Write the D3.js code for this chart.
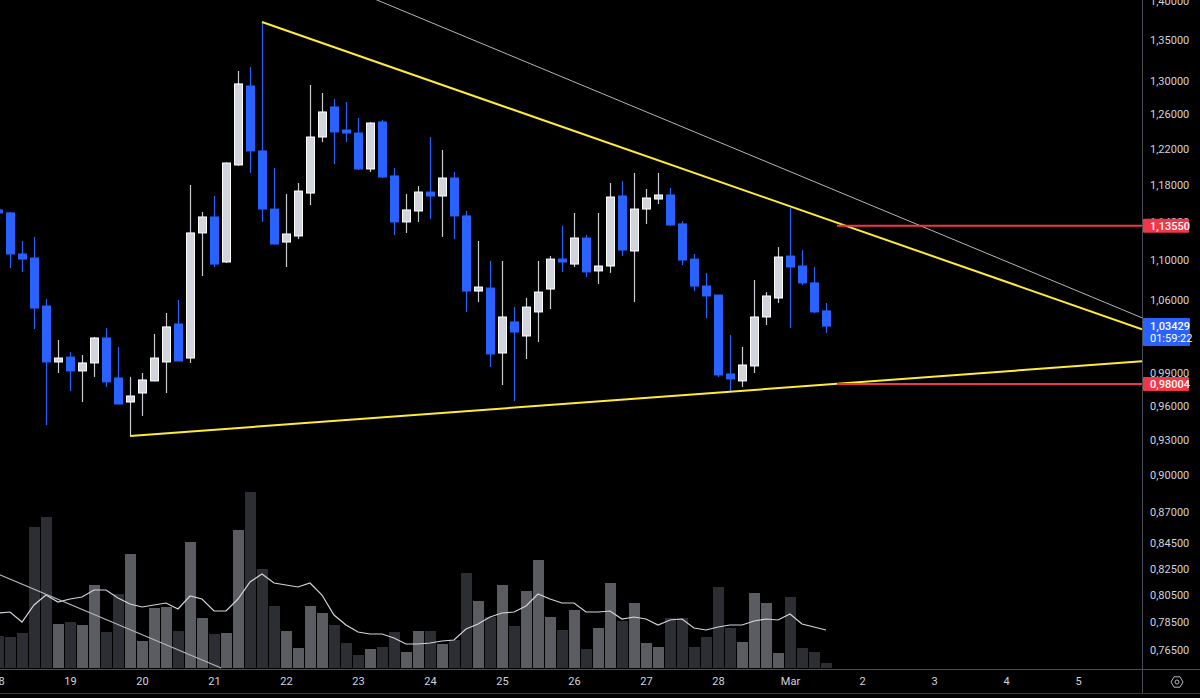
<!DOCTYPE html>
<html>
<head>
<meta charset="utf-8">
<script src="https://cdn.jsdelivr.net/npm/d3@7"></script>
<style>
html, body { margin: 0; background: #000; overflow: hidden; }
svg { display: block; }
text { font-family: Roboto, "Noto Sans", sans-serif; }
</style>
</head>
<body>
<svg id="chart" width="1200" height="698"></svg>
<script>
// 4h candles, first one opens Feb 18 2021 00:00 UTC
const startTime = Date.UTC(2021, 1, 18, 0);
const opens  = [1.1524,1.1492,1.1061,1.1020,1.0538,1.0003,1.0049,0.9920,0.9994,1.0229,0.9855,0.9637,0.9718,0.9828,1.0003,1.0363,1.0040,1.1280,1.1449,1.0979,1.2017,1.2934,1.2175,1.1534,1.1185,1.1248,1.1707,1.2334,1.2684,1.2415,1.2380,1.1972,1.2508,1.1895,1.1396,1.1513,1.1718,1.1675,1.1872,1.1460,1.0686,1.0716,1.0087,1.0383,1.0248,1.0480,1.0706,1.1009,1.0958,1.1227,1.0888,1.0938,1.1675,1.1092,1.1534,1.1642,1.1686,1.1375,1.1009,1.0736,1.0646,0.9892,0.9828,0.9966,1.0431,1.0617,1.1040,1.0938,1.0767,1.0490];
const highs  = [1.1540,1.1503,1.1196,1.1238,1.0607,1.0210,1.0096,1.0068,1.0239,1.0325,1.0144,0.9865,0.9901,1.0267,1.0470,1.0597,1.1795,1.1503,1.1675,1.2045,1.3116,1.3165,1.3728,1.1983,1.1696,1.1817,1.2947,1.2850,1.2779,1.2743,1.2554,1.2505,1.2531,1.1983,1.1696,1.1784,1.2334,1.2186,1.1939,1.1513,1.1196,1.0989,1.0989,1.0528,1.0617,1.0989,1.1040,1.1354,1.1492,1.1259,1.1492,1.1817,1.1839,1.1928,1.1751,1.1928,1.1762,1.1406,1.1061,1.0868,1.0646,1.0257,1.0144,1.0797,1.0676,1.1133,1.1545,1.1102,1.0928,1.0568];
const lows   = [1.1460,1.0917,1.0878,1.0315,0.9433,0.9901,0.9736,0.9637,0.9865,0.9773,0.9619,0.9337,0.9513,0.9826,0.9718,1.0012,0.9994,1.0837,1.0928,1.0970,1.2010,1.1928,1.1396,1.1164,1.0928,1.1217,1.1577,1.2277,1.2028,1.2277,1.1961,1.1939,1.1872,1.1259,1.1280,1.1396,1.1428,1.1238,1.1217,1.0480,1.0577,0.9957,0.9791,0.9646,1.0031,1.0191,1.0509,1.0878,1.0928,1.0827,1.0756,1.0868,1.1040,1.0577,1.1375,1.1588,1.1354,1.0948,1.0686,1.0421,0.9865,0.9736,0.9773,0.9901,1.0354,1.0568,1.0325,1.0746,1.0470,1.0276];
const closes = [1.1492,1.1061,1.1009,1.0518,1.0003,1.0040,0.9920,0.9994,1.0229,0.9819,0.9619,0.9691,0.9837,1.0040,1.0335,1.0012,1.1280,1.1449,1.0958,1.2039,1.2959,1.2175,1.1534,1.1164,1.1269,1.1729,1.2334,1.2625,1.2392,1.2380,1.1972,1.2496,1.1883,1.1396,1.1524,1.1718,1.1675,1.1872,1.1460,1.0686,1.0726,1.0078,1.0431,1.0286,1.0528,1.0676,1.1009,1.0979,1.1227,1.0878,1.0938,1.1664,1.1102,1.1534,1.1653,1.1686,1.1364,1.0999,1.0736,1.0637,0.9883,0.9846,0.9975,1.0431,1.0637,1.1030,1.0928,1.0767,1.0480,1.03429];
// volume in millions and its moving average
const volumes = [3.2,3.1,3.5,14.1,15.1,4.4,4.6,4.3,8.3,3.6,7.4,11.4,2.7,6.0,6.1,3.7,12.6,5.0,3.4,3.5,13.8,17.6,9.9,6.2,3.7,2.0,6.2,5.5,4.3,2.5,1.3,1.9,2.1,3.6,1.6,3.7,3.7,2.4,2.8,9.5,6.7,5.1,8.3,4.2,7.7,10.8,5.1,3.8,5.8,1.9,4.0,8.5,4.7,6.5,2.5,2.1,5.0,5.0,2.1,3.1,8.1,4.0,2.6,7.5,6.5,1.5,7.1,2.0,1.6,0.5];
const volumeMA = [5.5,5.6,4.6,6.3,7.3,6.6,6.9,7.1,7.8,7.8,7.0,6.4,6.1,6.3,6.5,5.9,7.2,6.9,5.7,5.7,6.9,8.6,9.4,8.5,8.3,8.1,8.5,7.3,5.3,4.3,3.6,3.4,3.4,3.0,2.4,2.4,2.5,2.7,2.8,3.9,4.4,5.1,5.5,5.6,6.2,7.4,6.9,6.5,6.5,5.6,5.6,5.7,4.9,5.1,4.9,4.3,4.8,4.9,4.0,3.8,4.1,4.3,4.3,4.7,4.9,4.8,5.4,4.4,4.1,3.8];

const priceTicks = [1.40, 1.35, 1.30, 1.26, 1.22, 1.18, 1.14, 1.10, 1.06, 0.99, 0.96, 0.93, 0.90, 0.87, 0.845, 0.825, 0.805, 0.785, 0.765];
const levels = [1.1355, 0.98004];
const lastPrice = 1.03429;
const countdown = "01:59:22";

// drawings: [candle number, price]
const upperTrend = [[22, 1.3728], [66, 1.1563]];
const lowerTrend = [[11, 0.9337], [61, 0.9730]];
const greyTrend = [[32, 1.3985], [68, 1.1833]];
const volumeTrend = [[0, 9.4], [18.6, 0]];
const levelStart = 70;

const W = 1200, H = 698;
const plotRight = 1142, plotBottom = 669;
const hour = 3600 * 1000;
const at = k => new Date(startTime + k * 4 * hour);

const candles = opens.map((o, k) => ({
    t: at(k), o, h: highs[k], l: lows[k], c: closes[k], v: volumes[k], ma: volumeMA[k], up: closes[k] >= o
}));

const svg = d3.select("#chart");
svg.append("rect").attr("width", W).attr("height", H).attr("fill", "#000");

const x = d3.scaleUtc()
    .domain([new Date(Date.UTC(2021, 1, 19)), new Date(Date.UTC(2021, 1, 20))])
    .range([70, 142]);
const y = d3.scaleLog().domain([0.765, 1.35]).range([650, 40]);
const yVol = d3.scaleLinear().domain([0, 20]).range([668, 468]);

svg.append("clipPath").attr("id", "plot")
    .append("rect").attr("x", 0).attr("y", 0).attr("width", plotRight).attr("height", plotBottom);

const plot = svg.append("g").attr("clip-path", "url(#plot)");

// volume bars
plot.append("g").selectAll("rect")
    .data(candles)
    .enter()
    .append("rect")
    .attr("x", d => x(d.t) - 5)
    .attr("y", d => yVol(d.v))
    .attr("width", 11)
    .attr("height", d => yVol(0) - yVol(d.v))
    .attr("fill", d => d.up ? "#5b5c61" : "#2d2e33");

// volume moving average
plot.append("path")
    .datum(candles)
    .attr("d", d3.line().x(d => x(d.t)).y(d => yVol(d.ma)))
    .attr("fill", "none")
    .attr("stroke", "#d1d4dc")
    .attr("stroke-width", 1.2);

// straight drawing extended in screen space
function extended(pts, sx, sy, x0, x1) {
    const ax = sx(at(pts[0][0])), ay = sy(pts[0][1]);
    const bx = sx(at(pts[1][0])), by = sy(pts[1][1]);
    const m = (by - ay) / (bx - ax);
    return [[x0, ay + m * (x0 - ax)], [x1, ay + m * (x1 - ax)]];
}
const seg = d3.line();

plot.append("path")
    .attr("d", seg(extended(volumeTrend, x, yVol, x(at(volumeTrend[0][0])) - 5, x(at(volumeTrend[1][0])))))
    .attr("stroke", "#b2b5be").attr("stroke-width", 1.2).attr("fill", "none");

plot.append("path")
    .attr("d", seg(extended(greyTrend, x, y, 300, plotRight)))
    .attr("stroke", "#b2b5be").attr("stroke-width", 1).attr("fill", "none");

// candles
const candleG = plot.append("g");
candleG.selectAll("line")
    .data(candles)
    .enter()
    .append("line")
    .attr("x1", d => Math.round(x(d.t)) + 0.5)
    .attr("x2", d => Math.round(x(d.t)) + 0.5)
    .attr("y1", d => y(d.h))
    .attr("y2", d => y(d.l))
    .attr("stroke", d => d.up ? "#c9cbd1" : "#2962ff")
    .attr("stroke-width", 1.2);

candleG.selectAll("rect")
    .data(candles)
    .enter()
    .append("rect")
    .attr("x", d => Math.round(x(d.t)) - 3.5)
    .attr("y", d => y(Math.max(d.o, d.c)))
    .attr("width", 8)
    .attr("height", d => Math.max(1.5, y(Math.min(d.o, d.c)) - y(Math.max(d.o, d.c))))
    .attr("fill", d => d.up ? "#d1d4dc" : "#2962ff")
    .attr("stroke", d => d.up ? "#ffffff" : "#2962ff")
    .attr("stroke-width", 1);

// yellow trend lines
plot.append("path")
    .attr("d", seg(extended(upperTrend, x, y, x(at(upperTrend[0][0])), plotRight)))
    .attr("stroke", "#ffeb3b").attr("stroke-width", 2).attr("fill", "none");
plot.append("path")
    .attr("d", seg(extended(lowerTrend, x, y, x(at(lowerTrend[0][0])), plotRight)))
    .attr("stroke", "#ffeb3b").attr("stroke-width", 2).attr("fill", "none");

// horizontal levels
plot.selectAll(".level")
    .data(levels)
    .enter()
    .append("line")
    .attr("class", "level")
    .attr("x1", x(at(levelStart)) - 1)
    .attr("x2", plotRight)
    .attr("y1", d => y(d))
    .attr("y2", d => y(d))
    .attr("stroke", "#f23645")
    .attr("stroke-width", 2);

// frame
svg.append("line").attr("x1", plotRight + 0.5).attr("x2", plotRight + 0.5).attr("y1", 0).attr("y2", 694)
    .attr("stroke", "#4a4d57");
svg.append("line").attr("x1", 0).attr("x2", W).attr("y1", plotBottom + 0.5).attr("y2", plotBottom + 0.5)
    .attr("stroke", "#4a4d57");
svg.append("line").attr("x1", 0).attr("x2", W).attr("y1", 693.5).attr("y2", 693.5)
    .attr("stroke", "#3a3d45");

// price axis
const fmt = v => d3.format(".5f")(v).replace(".", ",");
const yAxis = svg.append("g")
    .attr("transform", `translate(${plotRight},0)`)
    .call(d3.axisRight(y).tickValues(priceTicks).tickFormat(fmt).tickSize(0).tickPadding(8));
yAxis.select(".domain").remove();
yAxis.selectAll("text").attr("fill", "#d1d4dc").style("font-size", "11px");

// time axis
const days = d3.utcDay.range(new Date(Date.UTC(2021, 1, 18)), new Date(Date.UTC(2021, 2, 6)));
const dayFmt = d => d.getUTCDate() === 1 ? d3.utcFormat("%b")(d) : d3.utcFormat("%-d")(d);
const xAxis = svg.append("g")
    .attr("transform", `translate(0,${plotBottom})`)
    .call(d3.axisBottom(x).tickValues(days).tickFormat(dayFmt).tickSize(0).tickPadding(8));
xAxis.select(".domain").remove();
xAxis.selectAll("text").attr("fill", "#d1d4dc").style("font-size", "11px");

// level labels
const labels = svg.append("g");
levels.forEach(v => {
    const cy = y(v);
    labels.append("rect")
        .attr("x", plotRight + 1).attr("y", cy - 7).attr("width", 46).attr("height", 14)
        .attr("rx", 1).attr("fill", "#f23645");
    labels.append("text")
        .attr("x", plotRight + 8).attr("y", cy + 4)
        .attr("fill", "#fff").style("font-size", "11px").style("font-weight", 500)
        .text(fmt(v));
});

// last price label
const ly = y(lastPrice);
labels.append("rect")
    .attr("x", plotRight + 1).attr("y", ly - 8).attr("width", 47).attr("height", 28)
    .attr("rx", 1).attr("fill", "#2962ff");
labels.append("text")
    .attr("x", plotRight + 8).attr("y", ly + 4)
    .attr("fill", "#fff").style("font-size", "11px").style("font-weight", 500)
    .text(fmt(lastPrice));
labels.append("text")
    .attr("x", plotRight + 8).attr("y", ly + 16)
    .attr("fill", "#fff").style("font-size", "11px")
    .text(countdown);

// settings icon
const icon = svg.append("g").attr("transform", "translate(1177,682)");
icon.append("path")
    .attr("d", d3.range(6).map((i, j) => {
        const a = Math.PI / 3 * i;
        return (j ? "L" : "M") + (6 * Math.cos(a)).toFixed(2) + "," + (6 * Math.sin(a)).toFixed(2);
    }).join("") + "Z")
    .attr("fill", "none").attr("stroke", "#b2b5be").attr("stroke-width", 1);
icon.append("circle").attr("r", 2).attr("fill", "none").attr("stroke", "#b2b5be").attr("stroke-width", 1);
</script>
</body>
</html>
